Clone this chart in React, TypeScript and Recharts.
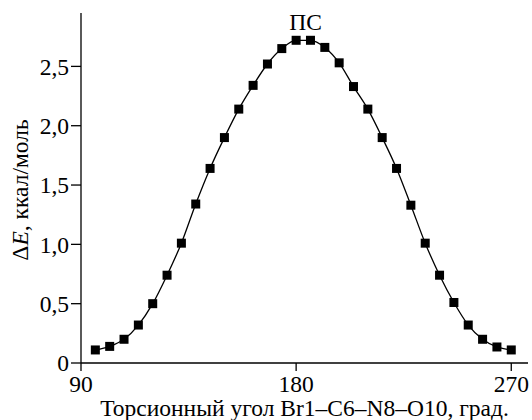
import React from 'react';
import { LineChart, Line, XAxis, YAxis, Label, ReferenceDot } from 'recharts';

// torsion angle, degrees
const angles = [
  96, 102, 108, 114, 120, 126, 132, 138, 144, 150, 156, 162, 168, 174, 180,
  186, 192, 198, 204, 210, 216, 222, 228, 234, 240, 246, 252, 258, 264, 270,
];
// relative energy, kcal/mol
const energies = [
  0.11, 0.14, 0.2, 0.32, 0.5, 0.74, 1.01, 1.34, 1.64, 1.9, 2.14, 2.34, 2.52, 2.65, 2.72,
  2.72, 2.66, 2.53, 2.33, 2.14, 1.9, 1.64, 1.33, 1.01, 0.74, 0.51, 0.32, 0.2, 0.135, 0.11,
];
const xTicks = [90, 180, 270];
const yTicks = [0, 0.5, 1, 1.5, 2, 2.5];

const data = angles.map((x, i) => ({ x, e: energies[i] }));

const FONT = '"Liberation Serif", "DejaVu Serif", serif';
const INK = '#000';
const FS = 23.5;

const fmtY = (v: number) => (v === 0 ? '0' : v.toFixed(1).replace('.', ','));

const SquareDot = (props: any) => {
  const { cx, cy, index } = props;
  if (cx == null || cy == null) return null;
  return <rect key={`sq-${index}`} x={cx - 4.5} y={cy - 4.5} width={9} height={9} fill={INK} />;
};

const YTitle = (props: any) => {
  const vb = props.viewBox || {};
  const cx = vb.x + 20;
  const cy = vb.y + vb.height / 2 + 2;
  return (
    <text
      x={cx}
      y={cy}
      transform={`rotate(-90, ${cx}, ${cy})`}
      textAnchor="middle"
      dominantBaseline="central"
      fontFamily={FONT}
      fontSize={FS}
      fill={INK}
    >
      Δ<tspan fontStyle="italic">E</tspan>, ккал/моль
    </text>
  );
};

export default function App() {
  return (
    <div style={{ position: 'absolute', left: 0, top: 0, width: 532, height: 420, background: '#fff' }}>
      <LineChart width={532} height={420} data={data} margin={{ top: 13, right: 4, left: 0, bottom: 0 }}>
        <XAxis
          type="number"
          dataKey="x"
          domain={[90, 277]}
          ticks={xTicks}
          height={57}
          tickSize={8}
          tickMargin={4}
          axisLine={{ stroke: INK, strokeWidth: 1.3 }}
          tickLine={{ stroke: INK, strokeWidth: 1.3 }}
          tick={{ fill: INK, fontFamily: FONT, fontSize: FS }}
        >
          <Label
            value="Торсионный угол Br1–C6–N8–O10, град."
            position="insideBottom"
            offset={4}
            style={{ fill: INK, fontFamily: FONT, fontSize: FS }}
          />
        </XAxis>
        <YAxis
          type="number"
          domain={[0, 2.95]}
          ticks={yTicks}
          width={81}
          tickSize={10}
          tickMargin={2}
          tickFormatter={fmtY}
          axisLine={{ stroke: INK, strokeWidth: 1.3 }}
          tickLine={{ stroke: INK, strokeWidth: 1.3 }}
          tick={{ fill: INK, fontFamily: FONT, fontSize: FS }}
        >
          <Label content={YTitle} />
        </YAxis>
        <Line
          type="monotone"
          dataKey="e"
          stroke={INK}
          strokeWidth={1.3}
          dot={SquareDot}
          activeDot={false}
          isAnimationActive={false}
        />
        <ReferenceDot
          x={184}
          y={2.72}
          r={0}
          stroke="none"
          label={{ value: 'ПС', position: 'top', offset: 10, fill: INK, fontFamily: FONT, fontSize: FS }}
        />
      </LineChart>
    </div>
  );
}
